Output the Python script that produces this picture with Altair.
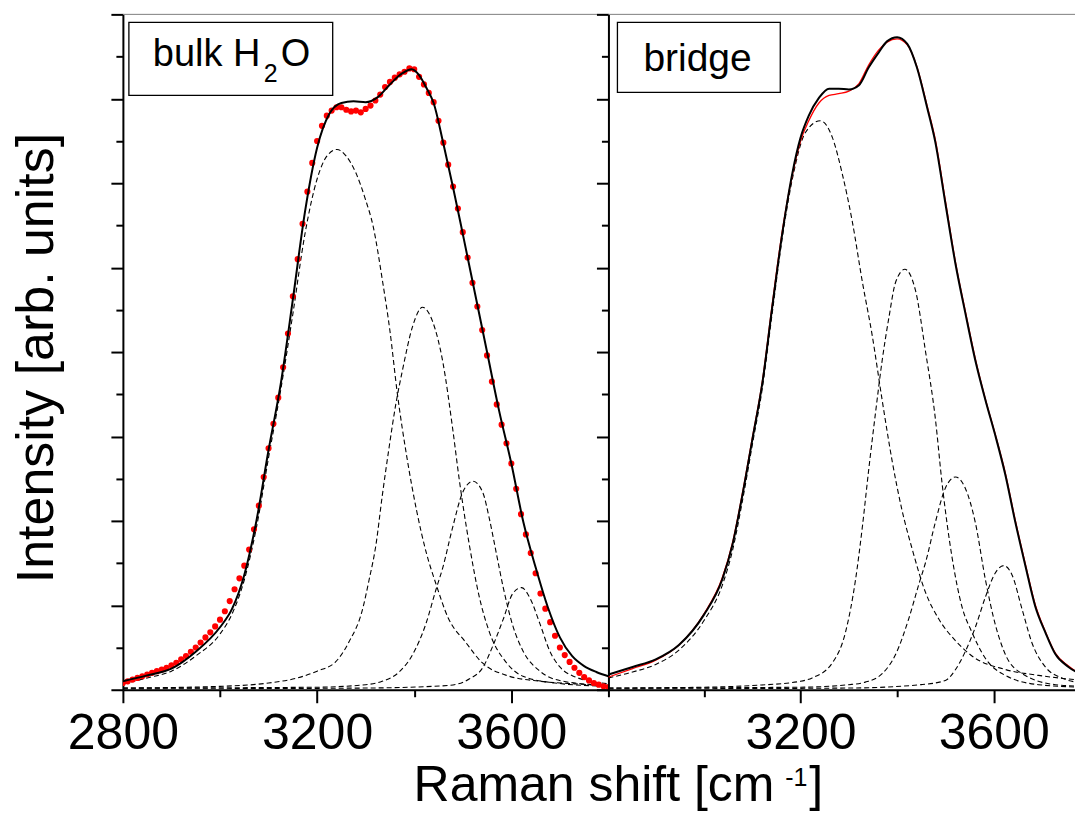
import altair as alt
import pandas as pd

FONT = "Liberation Sans"

# ---------------- left panel: bulk H2O ----------------
dots_x = list(range(2800, 3801, 10))
dots_y = [0.08, 0.10, 0.12, 0.14, 0.16, 0.18, 0.20, 0.22, 0.24, 0.26,
          0.29, 0.32, 0.36, 0.40, 0.45, 0.50, 0.56, 0.62, 0.68, 0.75,
          0.83, 0.93, 1.05, 1.19, 1.32, 1.47, 1.66, 1.90, 2.18, 2.52,
          2.86, 3.15, 3.46, 3.82, 4.22, 4.66, 5.10, 5.52, 5.90, 6.24,
          6.50, 6.68, 6.80, 6.86, 6.90, 6.90, 6.87, 6.85, 6.86, 6.84,
          6.88, 6.92, 6.98, 7.05, 7.14, 7.20, 7.25, 7.29, 7.32, 7.36,
          7.35, 7.26, 7.17, 7.07, 6.96, 6.74, 6.48, 6.22, 5.96, 5.70,
          5.42, 5.12, 4.82, 4.54, 4.26, 3.96, 3.65, 3.38, 3.14, 2.92,
          2.68, 2.38, 2.08, 1.84, 1.62, 1.38, 1.14, 0.96, 0.80, 0.64,
          0.50, 0.41, 0.33, 0.26, 0.20, 0.15, 0.11, 0.08, 0.06, 0.04,
          0.03]

fit_l_x = [2800, 2850, 2900, 2950, 3000, 3025, 3050, 3075, 3100, 3125, 3150, 3175,
           3200, 3225, 3250, 3275, 3300, 3325, 3350, 3375, 3395, 3410, 3425, 3440,
           3460, 3480, 3500, 3525, 3550, 3575, 3600, 3625, 3650, 3675, 3700, 3725,
           3750, 3775, 3800]
fit_l_y = [0.10, 0.17, 0.25, 0.45, 0.74, 0.96, 1.36, 2.00, 2.84, 3.62, 4.62, 5.66,
           6.42, 6.82, 6.95, 6.97, 6.96, 7.02, 7.17, 7.30, 7.35, 7.28, 7.13, 6.95,
           6.47, 5.95, 5.40, 4.70, 4.00, 3.30, 2.68, 1.98, 1.45, 0.98, 0.62, 0.40,
           0.28, 0.21, 0.16]

c1_l_x = [2800, 2850, 2900, 2950, 3000, 3025, 3050, 3075, 3100, 3125, 3150, 3175, 3200,
          3220, 3241, 3260, 3280, 3300, 3315, 3335, 3350, 3365, 3385, 3405, 3425, 3445,
          3470, 3505, 3540, 3590, 3660, 3730, 3800]
c1_l_y = [0.07, 0.14, 0.22, 0.40, 0.66, 0.90, 1.30, 1.92, 2.75, 3.55, 4.45, 5.40, 6.05,
          6.32, 6.40, 6.32, 6.12, 5.80, 5.50, 4.83, 4.25, 3.52, 2.75, 2.12, 1.62, 1.25,
          0.85, 0.57, 0.32, 0.17, 0.10, 0.07, 0.05]
c2_l_x = [2800, 3000, 3100, 3160, 3200, 3238, 3266, 3293, 3307, 3321, 3334, 3348, 3362,
          3376, 3397, 3417, 3438, 3459, 3479, 3493, 3514, 3534, 3555, 3590, 3624, 3690, 3800]
c2_l_y = [0.02, 0.04, 0.08, 0.14, 0.22, 0.33, 0.57, 0.94, 1.30, 1.71, 2.29, 2.86, 3.38,
          3.79, 4.31, 4.53, 4.36, 3.88, 3.10, 2.48, 1.70, 1.10, 0.68, 0.32, 0.16, 0.08, 0.04]
c3_l_x = [2800, 3200, 3300, 3334, 3369, 3397, 3424, 3445, 3459, 3479, 3500, 3521, 3541,
          3555, 3569, 3583, 3603, 3624, 3659, 3707, 3800]
c3_l_y = [0.02, 0.03, 0.06, 0.10, 0.21, 0.42, 0.78, 1.19, 1.45, 1.92, 2.34, 2.47, 2.34,
          2.02, 1.62, 1.22, 0.76, 0.46, 0.22, 0.10, 0.05]
c4_l_x = [2800, 3300, 3470, 3514, 3541, 3562, 3583, 3603, 3621, 3638, 3659, 3679, 3700,
          3728, 3800]
c4_l_y = [0.01, 0.02, 0.05, 0.13, 0.26, 0.52, 0.83, 1.14, 1.21, 1.09, 0.78, 0.46, 0.27,
          0.16, 0.07]

# ---------------- right panel: bridge ----------------
fit_r_x = [2802, 2852, 2900, 2948, 3000, 3038, 3059, 3079, 3100, 3121, 3141, 3162, 3183,
           3200, 3217, 3238, 3259, 3279, 3300, 3321, 3341, 3362, 3379, 3400, 3421, 3441,
           3462, 3479, 3500, 3521, 3541, 3562, 3583, 3603, 3624, 3645, 3666, 3686, 3707,
           3728, 3755, 3785]
fit_r_y = [0.18, 0.27, 0.36, 0.53, 0.89, 1.31, 1.72, 2.29, 2.96, 3.64, 4.52, 5.40, 6.12,
           6.54, 6.80, 7.01, 7.12, 7.12, 7.11, 7.16, 7.37, 7.55, 7.68, 7.73, 7.65, 7.37,
           6.90, 6.49, 5.76, 5.04, 4.47, 3.90, 3.43, 3.02, 2.55, 1.98, 1.46, 0.99, 0.68,
           0.42, 0.27, 0.17]
red_r_y = [0.15, 0.25, 0.35, 0.53, 0.90, 1.33, 1.74, 2.31, 2.98, 3.66, 4.55, 5.43, 6.10,
           6.50, 6.74, 6.95, 7.04, 7.06, 7.09, 7.18, 7.40, 7.58, 7.67, 7.71, 7.64, 7.38,
           6.92, 6.52, 5.79, 5.06, 4.49, 3.92, 3.44, 3.03, 2.57, 2.00, 1.48, 1.01, 0.69,
           0.43, 0.28, 0.17]

c1_r_x = [2802, 2852, 2900, 2948, 3000, 3038, 3059, 3079, 3100, 3121, 3141, 3162, 3183,
          3210, 3241, 3266, 3286, 3307, 3328, 3348, 3369, 3390, 3410, 3431, 3459, 3486,
          3521, 3555, 3624, 3693, 3785]
c1_r_y = [0.14, 0.21, 0.30, 0.47, 0.82, 1.24, 1.65, 2.22, 2.90, 3.58, 4.45, 5.35, 6.05,
          6.60, 6.74, 6.54, 6.12, 5.55, 4.83, 4.21, 3.43, 2.70, 2.13, 1.67, 1.15, 0.84,
          0.58, 0.40, 0.24, 0.17, 0.11]
c2_r_x = [2802, 3000, 3100, 3200, 3224, 3266, 3293, 3314, 3328, 3341, 3355, 3369, 3383,
          3397, 3416, 3438, 3459, 3479, 3493, 3514, 3534, 3555, 3583, 3624, 3693, 3785]
c2_r_y = [0.02, 0.03, 0.05, 0.10, 0.14, 0.32, 0.68, 1.31, 1.93, 2.60, 3.27, 3.90, 4.41,
          4.83, 4.98, 4.73, 4.00, 3.22, 2.45, 1.56, 0.99, 0.68, 0.37, 0.17, 0.06, 0.03]
c3_r_x = [2802, 3200, 3300, 3334, 3369, 3397, 3424, 3445, 3459, 3479, 3500, 3521, 3541,
          3562, 3583, 3603, 3624, 3659, 3728, 3785]
c3_r_y = [0.02, 0.03, 0.06, 0.09, 0.19, 0.42, 0.84, 1.25, 1.51, 1.98, 2.39, 2.52, 2.39,
          1.98, 1.30, 0.78, 0.42, 0.19, 0.06, 0.04]
c4_r_x = [2802, 3300, 3450, 3500, 3521, 3541, 3562, 3583, 3603, 3621, 3638, 3659, 3679,
          3707, 3741, 3785]
c4_r_y = [0.01, 0.02, 0.06, 0.11, 0.24, 0.45, 0.74, 1.10, 1.38, 1.47, 1.36, 0.95, 0.56,
          0.27, 0.14, 0.08]

LEFT_W, RIGHT_W, H = 486, 475, 676


def long_df(comps):
    rows = []
    for name, (xs, ys) in comps.items():
        for a, b in zip(xs, ys):
            rows.append({"x": a, "y": b, "comp": name})
    return pd.DataFrame(rows)


def x_enc(domain, values, label_test, major_test):
    return alt.X("x:Q", scale=alt.Scale(domain=domain, nice=False, zero=False),
                 axis=alt.Axis(values=values, format="d",
                               labelExpr=f"({label_test}) ? datum.label : ''",
                               tickSize={"condition": {"test": major_test, "value": 13}, "value": 7},
                               tickWidth=2, tickColor="black", domainColor="black", domainWidth=2,
                               labelFont=FONT, labelFontSize=50, labelColor="black",
                               labelPadding=6, labelOverlap=False, labelFlush=False,
                               grid=False, title=None))


Y_VALUES = [i / 2 for i in range(0, 17)]
y_enc = alt.Y("y:Q", scale=alt.Scale(domain=[0, 8], nice=False, zero=False),
              axis=alt.Axis(values=Y_VALUES, labels=False,
                            tickSize={"condition": {"test": "datum.value % 1 === 0", "value": 12}, "value": 7},
                            tickWidth=2, tickColor="black", domainColor="black", domainWidth=2,
                            grid=False, title=None))


def txt(s, x, y, size, align="left", angle=0):
    kw = dict(align=align, baseline="alphabetic", fontSize=size, font=FONT, color="black")
    if angle:
        kw["angle"] = angle
    return alt.Chart(pd.DataFrame({"t": [s]})).mark_text(**kw).encode(
        text="t:N", x=alt.value(x), y=alt.value(y))


def box(x1, x2, y1, y2):
    return alt.Chart(pd.DataFrame({"b": [0]})).mark_rect(
        fill="white", stroke="black", strokeWidth=1.3).encode(
        x=alt.value(x1), x2=alt.value(x2), y=alt.value(y1), y2=alt.value(y2))


def top_rule(w):
    return alt.Chart(pd.DataFrame({"b": [0]})).mark_rule(color="#808080", strokeWidth=1).encode(
        x=alt.value(0), x2=alt.value(w), y=alt.value(0))


DASH = dict(strokeDash=[5, 3], strokeWidth=1.1, color="black", interpolate="monotone", clip=True)

# ----- left panel -----
xl = x_enc([2800, 3800], [2800, 3000, 3200, 3400, 3600, 3800],
           "datum.value % 400 === 0 && datum.value < 3700", "datum.value % 400 === 0")
comps_l = long_df({"c1": (c1_l_x, c1_l_y), "c2": (c2_l_x, c2_l_y),
                   "c3": (c3_l_x, c3_l_y), "c4": (c4_l_x, c4_l_y)})
l_comp = alt.Chart(comps_l).mark_line(**DASH).encode(x=xl, y=y_enc, detail="comp:N")
l_dots = alt.Chart(pd.DataFrame({"x": dots_x, "y": dots_y})).mark_circle(
    size=38, color="#ff0000", opacity=1, clip=True).encode(x=xl, y=y_enc)
l_fit = alt.Chart(pd.DataFrame({"x": fit_l_x, "y": fit_l_y})).mark_line(
    color="black", strokeWidth=2, interpolate="monotone", clip=True).encode(x=xl, y=y_enc)

left = alt.layer(
    l_comp, l_dots, l_fit, top_rule(LEFT_W),
    box(6, 210, 8, 81),
    txt("bulk H", 30, 52, 38), txt("2", 141, 68, 25), txt("O", 158, 52, 38),
    txt("Intensity [arb. units]", -70, 344, 52, align="center", angle=270),
    txt("Raman shift [cm", 291, 787, 50), txt("-1", 663, 772, 25), txt("]", 687, 787, 50),
).properties(width=LEFT_W, height=H)

# ----- right panel -----
xr = x_enc([2802, 3785], [2800, 3000, 3200, 3400, 3600],
           "datum.value === 3200 || datum.value === 3600",
           "datum.value === 3200 || datum.value === 3600")
comps_r = long_df({"c1": (c1_r_x, c1_r_y), "c2": (c2_r_x, c2_r_y),
                   "c3": (c3_r_x, c3_r_y), "c4": (c4_r_x, c4_r_y)})
r_comp = alt.Chart(comps_r).mark_line(**DASH).encode(x=xr, y=y_enc, detail="comp:N")
r_red = alt.Chart(pd.DataFrame({"x": fit_r_x, "y": red_r_y})).mark_line(
    color="#ff0000", strokeWidth=1.3, interpolate="monotone", clip=True).encode(x=xr, y=y_enc)
r_fit = alt.Chart(pd.DataFrame({"x": fit_r_x, "y": fit_r_y})).mark_line(
    color="black", strokeWidth=2, interpolate="monotone", clip=True).encode(x=xr, y=y_enc)

right = alt.layer(
    r_comp, r_red, r_fit, top_rule(RIGHT_W),
    box(9, 172, 8, 78), txt("bridge", 35, 57, 39),
).properties(width=RIGHT_W, height=H)

chart = alt.hconcat(left, right, spacing=0, bounds="flush",
                    padding={"left": 2, "top": 5, "right": -9, "bottom": 0}
                    ).configure_view(stroke=None)

chart.save("out.html", embed_options={"renderer": "svg", "actions": False})
